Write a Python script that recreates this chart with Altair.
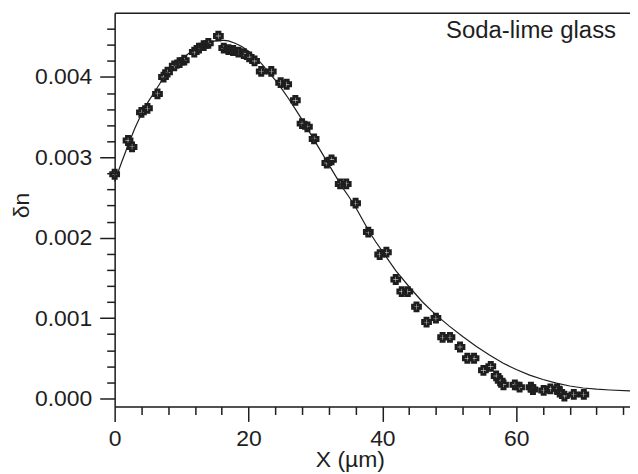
import altair as alt
import pandas as pd

# measured points (x in µm, δn)
pt_x = [0.0, 2.0, 2.6, 4.0, 4.9, 6.4, 7.3, 7.9, 8.9, 9.7, 10.4, 11.9, 12.6, 13.3, 14.0,
        15.5, 16.3, 17.0, 17.7, 18.5, 19.3, 20.1, 20.9, 21.9, 23.4, 24.8, 25.7, 27.0,
        28.0, 28.8, 29.8, 31.7, 32.4, 33.7, 34.6, 36.0, 37.9, 39.6, 40.6, 42.0, 42.9,
        43.8, 45.1, 46.6, 48.0, 49.0, 50.1, 51.6, 52.7, 53.7, 55.1, 56.2, 57.0, 57.6,
        58.1, 59.8, 60.5, 62.2, 62.5, 64.1, 65.1, 66.1, 66.5, 67.2, 68.6, 70.1]
pt_y = [0.00279, 0.00321, 0.00313, 0.00356, 0.00361, 0.00379, 0.00400, 0.00406, 0.00414,
        0.00418, 0.00421, 0.00431, 0.00436, 0.00439, 0.00442, 0.00451, 0.00436, 0.00434,
        0.00433, 0.00431, 0.00429, 0.00425, 0.00420, 0.00407, 0.00407, 0.00393, 0.00391,
        0.00371, 0.00342, 0.00338, 0.00323, 0.00293, 0.00297, 0.00267, 0.00267, 0.00243,
        0.00207, 0.00179, 0.00182, 0.00148, 0.00133, 0.00133, 0.00114, 0.00095, 0.00100,
        0.00076, 0.00076, 0.00064, 0.00050, 0.00050, 0.00035, 0.00040, 0.00028, 0.00022,
        0.00017, 0.00017, 0.00014, 0.00014, 0.00011, 0.00010, 0.00012, 0.00012, 0.00008,
        0.00003, 0.00005, 0.00005]

# fitted curve
fit_x = [0, 1, 2, 3, 4, 5, 6, 7, 8, 9, 10, 11, 12, 13, 14, 15, 16, 17, 18, 19, 20, 21, 22,
         23, 24, 25, 26, 27, 28, 29, 30, 31, 32, 33, 34, 35, 36, 37, 38, 39, 40, 42, 44,
         46, 48, 50, 52, 54, 56, 58, 60, 62, 64, 66, 68, 70, 72, 74, 77]
fit_y = [0.00270, 0.00293, 0.00315, 0.00336, 0.00354, 0.00369, 0.00382, 0.00395, 0.00406,
         0.00415, 0.00422, 0.00429, 0.00434, 0.00439, 0.00442, 0.00445, 0.00446, 0.00445,
         0.00442, 0.00438, 0.00432, 0.00425, 0.00416, 0.00406, 0.00396, 0.00385, 0.00373,
         0.00360, 0.00347, 0.00333, 0.00319, 0.00305, 0.00291, 0.00277, 0.00263, 0.00251,
         0.00238, 0.00223, 0.00208, 0.00195, 0.00183, 0.00159, 0.00139, 0.00120, 0.00104,
         0.00090, 0.00077, 0.00065, 0.00054, 0.00044, 0.00036, 0.00029, 0.000235, 0.00019,
         0.000155, 0.00013, 0.000115, 0.000105, 0.000095]

x_major = [0, 20, 40, 60]
x_minor = [4, 8, 12, 16, 24, 28, 32, 36, 44, 48, 52, 56, 64, 68, 72, 76]
y_major = [0.0, 0.001, 0.002, 0.003, 0.004]
y_minor = [0.0002, 0.0004, 0.0006, 0.0008, 0.0012, 0.0014, 0.0016, 0.0018, 0.0022,
           0.0024, 0.0026, 0.0028, 0.0032, 0.0034, 0.0036, 0.0038, 0.0042, 0.0044, 0.0046]

pts = pd.DataFrame({"x": pt_x, "y": pt_y})
fit = pd.DataFrame({"x": fit_x, "y": fit_y})
lab = pd.DataFrame({"label": ["Soda-lime glass"]})

FONT = "Liberation Sans"
INK = "#1e1e1e"

xs = alt.Scale(domain=[0, 77], nice=False, zero=False)
ys = alt.Scale(domain=[-0.0001, 0.0048], nice=False, zero=False)

ax_x_major = alt.Axis(orient="bottom", values=x_major, tickSize=15, tickWidth=1.5,
                      tickColor=INK, domainColor=INK, domainWidth=1.5, grid=False,
                      labelFont=FONT, labelFontSize=23, labelColor=INK, labelPadding=6,
                      labelFlush=False,
                      title="X (µm)", titleFont=FONT, titleFontSize=23,
                      titleFontWeight="normal", titleColor=INK, titleX=236, titleY=60,
                      titleAlign="center", titleBaseline="alphabetic")
ax_y_major = alt.Axis(orient="left", values=y_major, format=".3f", tickSize=15,
                      tickWidth=1.5, tickColor=INK, domainColor=INK, domainWidth=1.5,
                      grid=False, labelFont=FONT, labelFontSize=23, labelColor=INK,
                      labelPadding=8, labelFlush=False,
                      title="δn", titleFont=FONT, titleFontSize=23,
                      titleFontWeight="normal", titleColor=INK, titleX=-86, titleY=193,
                      titleAngle=270, titleAlign="center", titleBaseline="alphabetic")
ax_x_minor = alt.Axis(orient="bottom", values=x_minor, tickSize=8, tickWidth=1.5,
                      tickColor=INK, domain=False, labels=False, grid=False, title=None)
ax_y_minor = alt.Axis(orient="left", values=y_minor, tickSize=8, tickWidth=1.5,
                      tickColor=INK, domain=False, labels=False, grid=False, title=None)
ax_x_top = alt.Axis(orient="top", ticks=False, labels=False, grid=False, title=None,
                    domainColor=INK, domainWidth=1.5)

line = alt.Chart(fit).mark_line(color=INK, strokeWidth=1.2).encode(
    x=alt.X("x:Q", scale=xs, axis=ax_x_major),
    y=alt.Y("y:Q", scale=ys, axis=ax_y_major),
)
points = alt.Chart(pts).mark_point(shape="cross", filled=False, size=64, strokeWidth=2.8,
                                   color=INK, opacity=1).encode(
    x=alt.X("x:Q", scale=xs, axis=ax_x_minor),
    y=alt.Y("y:Q", scale=ys, axis=ax_y_minor),
)
frame_top = alt.Chart(fit).mark_line(opacity=0).encode(
    x=alt.X("x:Q", scale=xs, axis=ax_x_top),
    y=alt.Y("y:Q", scale=ys, axis=None),
)
label = alt.Chart(lab).mark_text(align="right", baseline="alphabetic", font=FONT,
                                 fontSize=24, color=INK).encode(
    x=alt.value(503), y=alt.value(25), text="label:N")

chart = alt.layer(line, points, frame_top, label).resolve_axis(
    x="independent", y="independent"
).properties(
    width=517, height=395,
    autosize=alt.AutoSizeParams(type="none"),
    padding={"left": 107, "top": 4, "right": 0, "bottom": 66},
).configure_view(stroke=None).configure(background="white")

chart.save("out.html", embed_options={"renderer": "svg", "actions": False})
